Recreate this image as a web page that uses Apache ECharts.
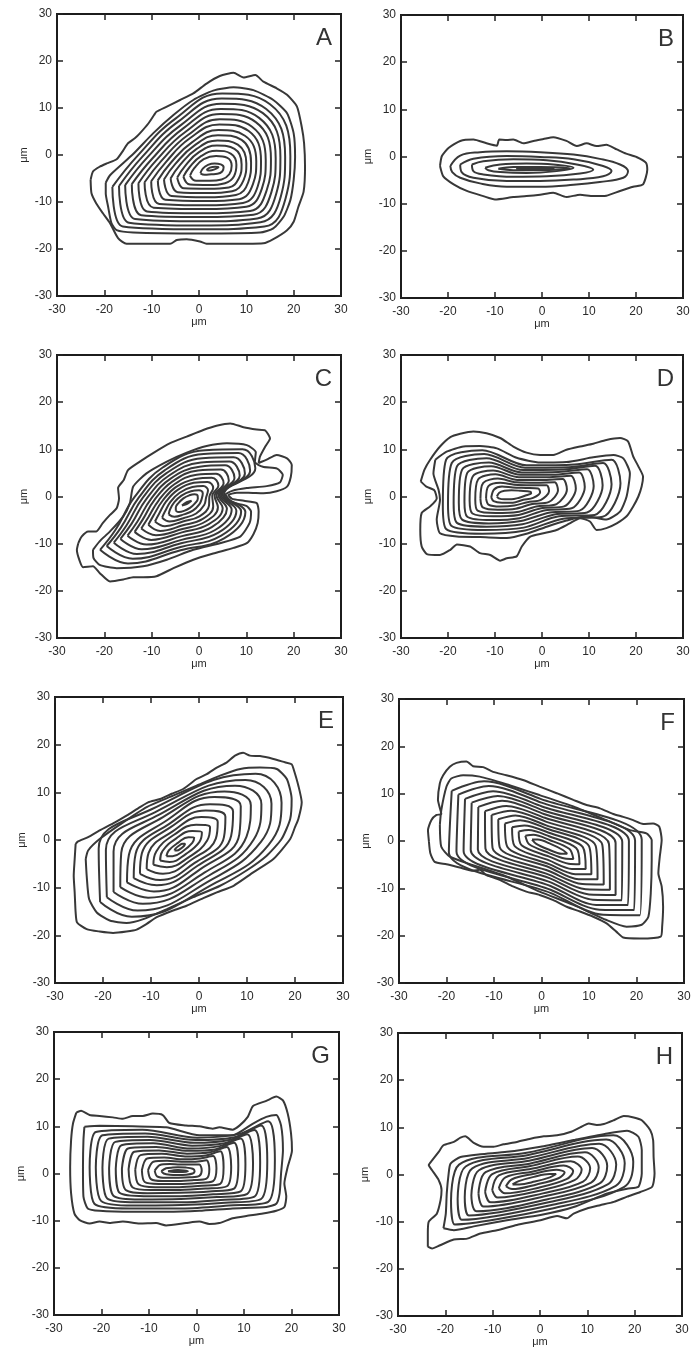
<!DOCTYPE html>
<html>
<head>
<meta charset="utf-8">
<script src="https://cdn.jsdelivr.net/npm/echarts@6/dist/echarts.min.js"></script>
<style>html,body{margin:0;padding:0;background:#fff}#chart{width:697px;height:1355px}</style>
</head>
<body>
<div id="chart"></div>
<script>
// ---------- data (μm), each contour is a closed line [x0,y0,x1,y1,...] ----------
const panelLabels = ['A','B','C','D','E','F','G','H'];
const tickValues = [-30,-20,-10,0,10,20,30];
const axisName = 'μm';

const contoursA = [
 [-22.9,-5.3,-22.4,-3.5,-21,-2.5,-19.5,-1.8,-17.4,-0.9,-16,1,-15,2.5,-13.5,3.6,-12.5,4.6,-10.7,6.7,-9.5,8.5,-9,9.2,-6.8,10.3,-4,11.7,-1.2,13.1,1.6,15.2,4.4,16.8,7.3,17.5,9.4,16.5,11.9,17,13.6,15.6,16.4,14.2,18.6,12.8,20.7,10.3,21.7,6,22.2,2.5,22.4,-2.5,22.1,-7.8,21,-11,20,-14.2,18.6,-16,15.7,-17.9,13.6,-18.8,10.1,-18.9,1.6,-18.9,0.2,-18.4,-2.6,-17.9,-4.7,-18.1,-6.1,-18.9,-15.3,-18.9,-17.1,-17.7,-18.8,-14.5,-20.3,-12.4,-21.7,-10.3,-22.7,-8.2],
 [-19.7,-5.9,-18.8,-4.3,-13.9,0.2,-9.7,4.6,-5.4,8.5,-1.2,11.7,3,13.7,7.3,14.4,11.5,13.8,15.7,11.7,18.6,8.9,20,4.6,20.3,-0.4,20,-5.3,19.3,-9.6,17.9,-13.1,15.7,-15.6,12.9,-16.5,0.2,-16.7,-13.9,-16.5,-17.4,-16,-18.5,-14.5,-19.2,-11,-19.7,-8.2],
 [-18.3,-6.8,-13,-0.2,-4.9,7.8,4.9,13.1,15,10.8,19.3,-0.2,18.3,-9.2,13.8,-15.2,0.2,-15.8,-16.1,-15.2],
 [-16.9,-6.6,-12,-0.4,-4.4,7.1,4.8,12,14.2,9.8,18.2,-0.4,17.3,-8.8,13,-14.3,0.4,-15,-14.8,-14.4],
 [-15.6,-6.4,-11,-0.6,-3.9,6.3,4.7,10.9,13.5,8.9,17.2,-0.5,16.3,-8.3,12.3,-13.5,0.5,-14.1,-13.5,-13.6],
 [-14.2,-6.2,-10,-0.9,-3.4,5.6,4.6,9.8,12.7,7.9,16.2,-0.7,15.3,-7.9,11.5,-12.7,0.7,-13.2,-12.2,-12.8],
 [-12.8,-6,-9,-1.1,-2.9,4.9,4.5,8.7,12,7,15.2,-0.9,14.3,-7.5,10.8,-11.9,0.9,-12.4,-11,-12],
 [-11.5,-5.8,-8,-1.3,-2.4,4.2,4.4,7.6,11.2,6,14.1,-1.1,13.3,-7.1,10,-11,1.1,-11.5,-9.6,-11.2],
 [-10.1,-5.6,-7,-1.5,-2,3.5,4.3,6.5,10.5,5.1,13.1,-1.3,12.4,-6.7,9.3,-10.2,1.3,-10.7,-8.4,-10.4],
 [-8.7,-5.4,-6,-1.7,-1.5,2.7,4.1,5.3,9.7,4.1,12.1,-1.4,11.4,-6.2,8.5,-9.4,1.4,-9.8,-7.1,-9.5],
 [-7.4,-5.2,-5,-1.9,-1,2,4,4.2,9,3.2,11,-1.6,10.4,-5.8,7.8,-8.5,1.6,-9,-5.8,-8.7],
 [-6,-5,-4,-2.1,-0.5,1.3,3.9,3.1,8.2,2.2,10,-1.8,9.4,-5.4,7,-7.7,1.8,-8.1,-4.5,-7.9],
 [-4.6,-4.8,-3,-2.4,0,0.6,3.8,2,7.5,1.3,9,-2,8.4,-5,6.3,-6.9,2,-7.2,-3.2,-7.1],
 [-3.3,-4.6,-2,-2.6,0.5,-0.2,3.7,0.9,6.7,0.3,7.9,-2.1,7.4,-4.5,5.5,-6,2.1,-6.4,-1.9,-6.3],
 [-1.9,-4.4,-1,-2.8,1,-0.9,3.6,-0.2,6,-0.6,6.9,-2.3,6.4,-4.1,4.8,-5.2,2.3,-5.5,-0.6,-5.5],
 [0.3,-3.9,0.8,-2.9,1.9,-2.1,3.3,-1.8,4.6,-2,5.2,-2.6,4.9,-3.5,3.9,-4,2.6,-4.1,1.2,-4.2],
 [1.6,-3.2,2.3,-2.7,3.4,-2.5,4.1,-2.6,3.4,-3.0,2.3,-3.3]
];

const contoursB = [
 [-21.7,-2,-21.3,0.1,-19.9,1.8,-17.4,3.3,-14.6,3.6,-11.8,2.8,-9.6,2.3,-9.1,3.6,-7.5,3.5,-6.1,3.6,-4,2.8,-1.8,3.3,0.3,3.7,2.4,4.1,5.2,3.3,7.4,2.2,9.5,2.8,11.6,2.2,13.7,2.5,15.9,1.5,17.9,0.6,20.1,-0.1,22.1,-1.3,22.4,-2.8,21.5,-5.9,19.4,-6.4,16.6,-7.3,13.7,-8.3,10.9,-8.4,8.1,-8.1,5.2,-8.6,2.4,-7.7,-0.4,-8.1,-3.3,-8.4,-6.1,-8.6,-10,-9.1,-12.5,-8.4,-16,-7.3,-18.8,-5.9,-21,-4.2],
 [-19.5,-2,-17.4,0.2,-13.2,0.9,-7.5,1.1,-0.4,0.9,6.7,0.4,12.3,-0.5,16.6,-1.7,18.3,-3.1,17.3,-4.5,12.3,-5.4,6.7,-6,-0.4,-6.4,-7.5,-6.4,-13.2,-5.7,-17.4,-4.5,-19.1,-3.3],
 [-17.4,-1.7,-14.6,-0.5,-7.5,0.1,-0.4,-0.1,6.7,-0.6,13,-2,14.8,-3.1,13,-4.2,6.7,-4.9,-0.4,-5.2,-7.5,-5.2,-14.6,-4.5,-17.1,-3.3],
 [-14.9,-1.7,-12.5,-1,-6.1,-0.6,1,-0.8,7.4,-1.7,10.9,-2.8,8.1,-3.6,1,-4.2,-6.1,-4.3,-12.5,-3.8,-14.6,-3.1],
 [-12.1,-2.4,-8.9,-1.7,-3.3,-1.5,2.4,-1.7,6.7,-2.4,3.1,-3.1,-3.3,-3.5,-8.9,-3.3,-11.4,-2.9],
 [-9.3,-2.6,-6.1,-2.2,-0.4,-2.2,5.9,-2.5,-0.4,-2.9,-6.1,-2.9],
 [-5.5,-2.6,-1.5,-2.45,2.5,-2.6,-1.5,-2.75]
];

const contoursC = [
 [-25.5,-9.9,-24.8,-8.5,-23.4,-7.4,-21.7,-7.4,-20.3,-5.6,-18.8,-3.9,-17.4,-2.5,-16.9,-0.4,-17.1,1.8,-15.9,3.5,-15,5.6,-12.5,7.4,-9.7,9.2,-6.1,11.3,-2.6,12.7,0.9,14.1,3.7,15,6.6,15.5,9.4,14.7,12.2,14.2,14,14,15,12.3,14,10.6,12.9,8.5,12.6,7.1,14.3,7.8,16.4,8.8,18.6,8.1,19.6,6.7,19.4,4.2,18.6,2.1,16.4,1.1,13.6,0.7,10.4,0.8,8,0.8,6.2,0.3,7,-0.5,9.5,-0.9,12.2,-1.4,12.6,-3.2,12.4,-5.6,11.5,-8,10.1,-9.9,7.3,-10.9,3,-12.1,-1.2,-13.4,-5.4,-15.2,-9,-16.9,-11.8,-17.1,-13.9,-17.1,-16,-17.6,-18.8,-18,-21,-16.2,-22.4,-14.8,-24.5,-15,-25.3,-13.4,-25.8,-11.3],
 [-22.4,-11.3,-21,-9.5,-18.8,-7.4,-16,-4.2,-14.6,-1.4,-13.9,2.1,-11.1,4.9,-6.8,7.4,-2.6,9.3,1.6,10.7,5.9,11.3,10.1,10.9,12,9.4,11.8,7.3,13.5,6.3,16.5,5.9,17.7,4.6,17.1,3,14.3,2.2,10.1,1.8,7,1.2,5.6,0.4,7,-1.2,10,-2,11,-3.2,10.7,-5.6,8.7,-8.5,4.4,-9.9,-1.2,-11.3,-6.8,-13.4,-11.8,-14.8,-17.4,-15.2,-21,-14.5,-22.3,-13],
 [-20.9,-11.3,-17.6,-7,-13.6,-0.1,-7.6,6.2,1.3,9.8,9.2,10,11.9,6,5.3,0.45,9.8,-3.3,5.3,-8.9,-3.9,-11.4,-15,-14.2],
 [-19.5,-10.5,-16.5,-6.6,-12.7,-0.2,-7.2,5.6,1,9,8.3,9.2,10.8,5.5,5,0.4,8.9,-3.2,4.7,-8.3,-3.9,-10.7,-14,-13.2],
 [-18,-9.8,-15.3,-6.1,-11.9,-0.3,-6.8,5,0.7,8.1,7.3,8.3,9.7,4.9,4.7,0.35,7.9,-3,4,-7.7,-3.8,-9.9,-13.1,-12.2],
 [-16.6,-9,-14.2,-5.7,-11.1,-0.5,-6.4,4.4,0.4,7.2,6.4,7.4,8.6,4.4,4.4,0.3,6.9,-2.8,3.4,-7.1,-3.7,-9.2,-12.1,-11.2],
 [-15.1,-8.3,-13,-5.3,-10.2,-0.6,-6,3.8,0.1,6.3,5.5,6.6,7.5,3.9,4.1,0.25,5.9,-2.6,2.7,-6.5,-3.6,-8.4,-11.1,-10.2],
 [-13.6,-7.5,-11.9,-4.9,-9.4,-0.7,-5.6,3.2,-0.2,5.5,4.6,5.7,6.3,3.4,3.7,0.2,5,-2.5,2,-5.9,-3.6,-7.6,-10.1,-9.2],
 [-12.2,-6.8,-10.7,-4.4,-8.5,-0.8,-5.2,2.6,-0.5,4.6,3.6,4.8,5.2,2.8,3.3,0.15,4,-2.3,1.4,-5.3,-3.5,-6.9,-9.1,-8.2],
 [-10.7,-6,-9.6,-4,-7.7,-0.9,-4.9,2,-0.8,3.7,2.7,4,4.1,2.3,2.8,0.1,3,-2.1,0.7,-4.8,-3.4,-6.1,-8.2,-7.3],
 [-9.3,-5.3,-8.4,-3.6,-6.9,-1,-4.5,1.4,-1.1,2.9,1.8,3.1,3,1.8,2.2,0,2.1,-2,0.1,-4.2,-3.4,-5.3,-7.2,-6.3],
 [-7.8,-4.5,-7.2,-3.2,-6,-1.1,-4.1,0.8,-1.4,2,0.9,2.2,1.9,1.3,1.5,-0.2,1.1,-1.8,-0.6,-3.6,-3.3,-4.6,-6.2,-5.3],
 [-6.4,-3.8,-6.1,-2.7,-5.2,-1.2,-3.7,0.2,-1.7,1.1,0,1.3,0.8,0.7,0.6,-0.4,0.1,-1.6,-1.3,-3,-3.2,-3.8,-5.2,-4.3],
 [-4.9,-3,-4.9,-2.3,-4.3,-1.35,-3.3,-0.4,-2.05,0.25,-0.95,0.5,-0.3,0.2,-0.25,-0.5,-0.85,-1.45,-1.9,-2.4,-3.15,-3.05,-4.25,-3.3],
 [-3.6,-1.9,-2.6,-1.2,-1.6,-0.9,-2.6,-1.6]
];

const contoursD = [
 [-25.8,3.2,-25,5.7,-23.8,7.8,-21.7,10.6,-19.5,12.6,-17.4,13.3,-14.6,13.8,-11.8,13.4,-8.9,12.4,-6.1,10.6,-3.3,9.3,-0.4,8.8,2.4,8.8,5.2,9.9,8.1,10.6,10.9,11.2,13.7,12,16.6,12.4,18.3,11.7,19.4,8.5,20.5,6.4,21.5,4.2,21.2,2.1,20.5,0,19.4,-2.1,18,-4.2,15.9,-5.7,13.7,-6.7,11.6,-7.1,10.2,-5.3,8.1,-4.6,5.9,-5.7,3.1,-7.1,0.3,-7.8,-2.5,-8.5,-4.3,-10.6,-5.4,-12.7,-7.5,-13.1,-8.9,-13.6,-11,-12.4,-13.2,-12,-15.3,-10.6,-18.1,-10.2,-19.5,-11.3,-21.7,-12.4,-24.5,-12.2,-25.6,-10.6,-25.9,-7.1,-25.6,-3.5,-23.8,-2.1,-22.4,-0.4,-22.9,1.3,-24.6,2.1],
 [-22.7,7.8,-20.3,9.5,-16.7,10.6,-13.2,10.7,-9.6,10.2,-5.4,8.2,-0.4,7.2,5.2,7.3,10.9,8.3,15.2,8.8,17.3,8.1,18.7,4.9,18,0,16.6,-3.2,13.7,-4.9,9.5,-4.2,5.2,-5.1,1,-6.4,-3.3,-7.9,-7.5,-8.8,-13.2,-8.6,-18.1,-8.5,-21.7,-7.8,-22.4,-4.9,-21.7,-0.7,-22,1.4,-23.1,4.9],
 [-21.1,-1.8,-20.4,7.8,-12.7,9.8,-3.3,6.6,6.9,6.8,14.8,7.8,16.7,2.8,12.9,-4.3,4.5,-4.7,-3.6,-7.2,-12.7,-7.9,-20.4,-6.9],
 [-20,-1.6,-19.2,7.1,-12.3,9,-3.6,6.1,5.7,6.2,13,7.1,14.8,2.6,11.2,-3.9,3.6,-4.2,-3.9,-6.6,-12.3,-7.1,-19.3,-6.2],
 [-18.8,-1.5,-18.1,6.4,-11.8,8.1,-4,5.6,4.6,5.7,11.3,6.5,12.9,2.4,9.6,-3.4,2.6,-3.8,-4.2,-5.9,-11.8,-6.4,-18.1,-5.6],
 [-17.7,-1.3,-17,5.7,-11.3,7.2,-4.3,5.1,3.5,5.2,9.6,5.8,11,2.2,8,-3,1.7,-3.4,-4.5,-5.2,-11.3,-5.7,-17,-4.9],
 [-16.5,-1.1,-15.9,5,-10.8,6.4,-4.6,4.6,2.3,4.6,7.9,5.1,9.1,2,6.3,-2.5,0.7,-2.9,-4.8,-4.6,-10.8,-5,-15.9,-4.3],
 [-15.4,-0.9,-14.7,4.3,-10.4,5.5,-4.9,4.1,1.2,4.1,6.1,4.4,7.2,1.7,4.7,-2.1,-0.2,-2.5,-5,-3.9,-10.4,-4.2,-14.8,-3.6],
 [-14.2,-0.7,-13.6,3.6,-9.9,4.7,-5.2,3.5,0,3.5,4.4,3.7,5.3,1.5,3.1,-1.6,-1.2,-2.1,-5.3,-3.3,-9.9,-3.5,-13.7,-3],
 [-13.1,-0.5,-12.5,2.9,-9.4,3.8,-5.5,3,-1.1,2.9,2.7,3,3.4,1.3,1.4,-1.2,-2.1,-1.6,-5.6,-2.6,-9.4,-2.8,-12.6,-2.3],
 [-11.9,-0.4,-11.4,2.2,-8.9,2.9,-5.9,2.5,-2.2,2.4,1,2.4,1.5,1.1,-0.2,-0.7,-3.1,-1.2,-5.9,-1.9,-8.9,-2.1,-11.4,-1.7],
 [-10.8,-0.2,-10.2,1.5,-8.5,2.1,-6.2,1.9,-3.4,1.8,-0.8,1.7,-0.4,0.9,-1.9,-0.3,-4,-0.7,-6.2,-1.3,-8.5,-1.3,-10.3,-1],
 [-9.6,0,-9.1,0.8,-8,1.2,-6.5,1.35,-4.5,1.2,-2.5,1,-2.3,0.7,-3.5,0.2,-5,-0.3,-6.5,-0.6,-8,-0.6,-9.2,-0.4]
];

const contoursE = [
 [-25.7,-0.8,-25.9,-4,-26.1,-7.5,-25.9,-11,-25.7,-15.2,-25.4,-17.3,-23.4,-18.7,-20.7,-19.2,-17.9,-19.5,-15.1,-19.2,-13,-18.8,-10.9,-17.6,-8.8,-16.2,-5.4,-14.8,-2.6,-13.8,0.9,-12.2,3.7,-11,7.2,-9.6,11.3,-6.8,15.5,-4,19,0.2,20,2.7,20.7,4.4,21.4,7.9,20.7,11.4,19.7,14.9,19.3,15.9,17.9,16.3,15.5,17,12.7,17.6,10.6,17.7,9.2,18.3,7.5,17.7,5.8,16.3,3.7,15.2,1.6,13.8,-0.5,12.8,-3.3,10.7,-5.7,9.7,-8.1,8.6,-10.6,7.9,-12.3,6.9,-15.1,5.1,-17.5,3.7,-20.7,2,-23.1,0.6,-25.2,-0.3],
 [-23.6,-4,-23.4,-7.5,-22.9,-12.4,-21.3,-15.2,-18.6,-16.9,-15.1,-17.4,-11.6,-16.6,-6.7,-14.5,-1.2,-12,4.4,-9.6,9.9,-6.4,14.1,-3.3,17.2,0.2,19,4.4,19.3,8.6,18.3,12.8,16.2,14.9,12.7,15.2,8.6,14.9,4.4,13.5,-0.5,11.4,-5.4,9.3,-10.9,6.9,-15.8,3.7,-20.7,0.2,-23.1,-2.2],
 [-20.6,-13,-20.9,-1.8,-10,6.4,11.8,13.9,17.2,7.8,14.5,-1,3.6,-8.9,-14,-16.1],
 [-19.2,-12,-19.4,-2.1,-9.2,5.8,9.7,12.6,15.1,7.6,12.9,-0.4,2.8,-8.2,-12.8,-14.8],
 [-17.8,-10.9,-17.8,-2.4,-8.3,5.3,7.5,11.4,13,7.5,11.4,0.1,2,-7.5,-11.7,-13.4],
 [-16.4,-9.9,-16.2,-2.7,-7.5,4.8,5.3,10.2,10.8,7.3,9.9,0.7,1.2,-6.8,-10.6,-12.1],
 [-15,-8.9,-14.6,-3.1,-6.6,4.2,3.2,9,8.7,7.1,8.4,1.2,0.3,-6.1,-9.4,-10.8],
 [-13.6,-8,-13.2,-2.9,-6.2,3.4,2.3,7.5,7.1,6,6.7,0.9,-0.3,-5.4,-8.8,-9.5],
 [-12.3,-7.1,-11.9,-2.8,-5.9,2.7,1.4,6.2,5.5,4.9,5.2,0.6,-0.9,-4.8,-8.1,-8.4],
 [-10.9,-6.1,-10.5,-2.7,-5.5,1.8,0.5,4.8,3.9,3.8,3.5,0.3,-1.5,-4.1,-7.5,-7.1],
 [-9.5,-5.2,-8.9,-2.4,-5.2,1.1,-0.6,3.2,2.3,2.7,1.7,-0.1,-2.1,-3.6,-6.7,-5.7],
 [-8.1,-4.3,-7.6,-2.3,-4.8,0.3,-1.4,1.9,0.6,1.6,0.1,-0.4,-2.7,-2.9,-6.1,-4.6],
 [-6.8,-3.4,-6.3,-2.2,-4.4,-0.6,-2.2,0.6,-1,0.5,-1.4,-0.6,-3.3,-2.3,-5.5,-3.4],
 [-5.1,-2.2,-4.9,-1.8,-4.2,-1.2,-3.4,-0.8,-2.9,-0.8,-3.1,-1.2,-3.8,-1.8,-4.6,-2.2]
];

const contoursF = [
 [-23.7,-0.1,-23.9,2.3,-23.2,4.4,-22.1,5.5,-21.1,5.7,-21.8,8.7,-21.4,12.2,-20.7,13.9,-19.3,15.7,-17.9,16.5,-15.8,16.8,-14.4,15.8,-12.3,15.6,-10.2,14.6,-7.4,13.9,-3.9,12.9,-0.4,11.5,3.2,10.1,6.7,8.7,9.5,7.6,12.3,6.9,15.1,5.7,17.2,5.1,19.3,4.4,21.4,3.6,23.5,3.7,24.8,3,25.3,0.2,24.9,-3.3,24.6,-6.8,25.3,-9.6,25.6,-13.9,25.4,-18.1,25.1,-20.2,20.7,-20.6,17.2,-20.4,15.8,-19.2,13.7,-17.4,10.9,-16,8.1,-14.9,5.3,-13.9,2.5,-12.5,-0.4,-11.4,-3.2,-10.7,-6,-9.6,-8.8,-8.2,-11.6,-7.2,-13,-6.1,-14.4,-6.3,-17.2,-5.6,-20,-4.9,-22.5,-4.4,-23.4,-2.6],
 [-21.4,3.4,-21.1,6.5,-20,11.5,-19,13.2,-16.5,13.9,-13,13.6,-7.4,12,-0.4,9.7,6.7,7.3,13.7,4.4,18.6,2.3,22.1,1.6,23.2,0.2,23.2,-4,23,-11.1,22.5,-16,21.1,-17.7,17.9,-18.1,13.7,-16.7,6.7,-13.5,-0.4,-10.7,-7.4,-7.5,-14.4,-5.1,-19.3,-3.3,-21.1,-1.2],
 [-18.9,10.6,-12.1,12.6,-0.2,8.9,21.1,0.3,20.7,-15.7,13,-15.6,2,-11,-19.5,-2.4],
 [-17.5,9.8,-11.1,11.6,0,8.1,19.7,0.1,19.5,-14.6,12.2,-14.5,1.9,-10.3,-17.9,-2.2],
 [-16.1,8.9,-10.2,10.5,0.1,7.3,18.4,0,18.2,-13.5,11.5,-13.5,1.9,-9.5,-16.4,-2.1],
 [-14.7,8.1,-9.2,9.5,0.3,6.5,17,-0.2,16.9,-12.5,10.8,-12.4,1.8,-8.7,-14.9,-1.9],
 [-13.3,7.2,-8.3,8.5,0.5,5.7,15.6,-0.4,15.6,-11.4,10,-11.3,1.8,-7.9,-13.4,-1.8],
 [-11.9,6.3,-7.4,7.4,0.7,4.9,14.2,-0.6,14.4,-10.3,9.3,-10.2,1.8,-7.2,-11.8,-1.6],
 [-10.5,5.5,-6.4,6.4,0.9,4.1,12.8,-0.8,13.1,-9.2,8.6,-9.1,1.7,-6.4,-10.3,-1.5],
 [-9.1,4.6,-5.5,5.4,1,3.3,11.4,-1,11.8,-8.1,7.8,-8.1,1.7,-5.6,-8.8,-1.3],
 [-7.7,3.7,-4.5,4.4,1.2,2.6,10,-1.1,10.5,-7,7.1,-7,1.6,-4.9,-7.2,-1.2],
 [-6.2,2.9,-3.6,3.3,1.4,1.8,8.7,-1.3,9.3,-5.9,6.4,-5.9,1.6,-4.1,-5.7,-1],
 [-4.8,2,-2.7,2.3,1.6,1,7.3,-1.5,8,-4.9,5.7,-4.8,1.6,-3.3,-4.2,-0.9],
 [-3.4,1.1,-1.7,1.3,1.7,0.2,5.9,-1.7,6.7,-3.8,4.9,-3.7,1.5,-2.5,-2.6,-0.7],
 [-2,0.3,-0.8,0.3,1.9,-0.6,4.5,-1.9,5.4,-2.7,4.2,-2.7,1.5,-1.8,-1.1,-0.6]
];

const contoursG = [
 [-25.3,12.9,-24.3,13.3,-22.5,12.4,-20.4,12.2,-17.6,11.9,-15.5,11.6,-13.4,12.2,-11.3,12.2,-9.2,12.7,-7.1,12.4,-5.7,10.7,-2.2,10.2,0.6,10,3.4,9.5,4.8,9.8,7.6,9.3,9.1,10.2,10.8,12,11.9,14.3,14.7,15.4,16.8,16.3,18.2,15.5,19.2,12.7,19.9,8.5,20.1,4.9,19.2,1.4,18.5,-2.1,18.9,-4.9,18.5,-7.1,16.8,-7.9,14,-8.5,10.5,-9,7.6,-9.5,4.8,-10.5,2.7,-10.7,0.6,-10.2,-2.2,-10.5,-6.4,-11,-8.5,-10.5,-12,-10.6,-15.5,-10.2,-18.3,-10.5,-20.4,-10.2,-22.5,-10.6,-24.6,-9.9,-25.7,-8.5,-26.4,-4.2,-26.6,1.4,-26.4,7.1,-26,10.6],
 [-23.6,9.9,-20.4,10.1,-13.4,10,-6.4,9.8,0.6,8.1,7.6,8.1,11.9,10.6,14.7,12,16.8,12.4,17.8,10.2,18.2,4.9,17.8,0,17.5,-4.2,16.8,-6.4,14.7,-7.1,7.6,-7.4,0.6,-7.9,-6.4,-8.1,-13.4,-8.1,-20.4,-7.9,-22.9,-7.4,-23.8,-4.9,-23.9,1.4,-23.8,7.1],
 [-22.5,1.3,-21.2,8.8,-11.4,9.3,0.2,7.6,9,8.4,15.1,11.1,16.5,2.8,15.1,-6,6.8,-6.8,-3.1,-7.4,-14.2,-7.4,-21.5,-6.4],
 [-21.2,1.3,-19.8,8.1,-10.8,8.5,-0.2,7.1,8,7.7,13.6,10.2,14.9,2.6,13.6,-5.4,6,-6.2,-3.2,-6.7,-13.4,-6.8,-20.1,-5.8],
 [-19.8,1.2,-18.5,7.4,-10.3,7.8,-0.5,6.5,6.9,7.1,12.2,9.2,13.4,2.4,12.2,-4.9,5.1,-5.6,-3.2,-6.1,-12.7,-6.1,-18.8,-5.3],
 [-18.4,1.1,-17.1,6.7,-9.7,7.1,-0.9,5.9,5.9,6.4,10.7,8.3,11.9,2.2,10.7,-4.3,4.3,-5,-3.3,-5.4,-11.9,-5.5,-17.5,-4.7],
 [-17,1,-15.8,6,-9.1,6.4,-1.3,5.3,4.9,5.8,9.3,7.4,10.3,2,9.3,-3.8,3.5,-4.4,-3.4,-4.8,-11.1,-4.8,-16.2,-4.1],
 [-15.7,1,-14.4,5.3,-8.5,5.6,-1.7,4.8,3.9,5.1,7.9,6.5,8.8,1.8,7.9,-3.2,2.7,-3.8,-3.5,-4.1,-10.3,-4.2,-14.9,-3.5],
 [-14.3,0.9,-13.1,4.6,-7.9,4.9,-2,4.2,2.9,4.5,6.4,5.6,7.3,1.5,6.4,-2.7,1.9,-3.2,-3.5,-3.5,-9.5,-3.5,-13.5,-2.9],
 [-12.9,0.8,-11.8,3.9,-7.3,4.2,-2.4,3.6,1.9,3.8,5,4.7,5.7,1.3,5,-2.2,1.1,-2.6,-3.6,-2.9,-8.7,-2.9,-12.2,-2.3],
 [-11.5,0.7,-10.4,3.2,-6.8,3.4,-2.8,3,0.8,3.2,3.5,3.7,4.2,1.1,3.5,-1.6,0.2,-2,-3.7,-2.2,-8,-2.2,-10.9,-1.8],
 [-10.2,0.7,-9.1,2.5,-6.2,2.7,-3.2,2.5,-0.2,2.5,2.1,2.8,2.7,0.9,2.1,-1.1,-0.6,-1.4,-3.8,-1.6,-7.2,-1.6,-9.6,-1.2],
 [-8.8,0.6,-7.7,1.8,-5.6,2,-3.5,1.9,-1.2,1.9,0.6,1.9,1.1,0.7,0.6,-0.5,-1.4,-0.8,-3.8,-0.9,-6.4,-0.9,-8.3,-0.6],
 [-7.4,0.5,-6.4,1.1,-5,1.25,-3.9,1.3,-2.2,1.25,-0.8,1,-0.4,0.5,-0.8,0,-2.2,-0.25,-3.9,-0.3,-5.6,-0.25,-6.9,0],
 [-6,0.5,-3.9,0.75,-1.8,0.5,-3.9,0.3]
];

const contoursH = [
 [-23.7,-15.3,-22.8,-15.7,-21.1,-15,-18.2,-13.8,-15.4,-13.6,-12.6,-12.5,-9.1,-11.8,-4.9,-10.7,0.1,-9.7,3.6,-8.8,5.7,-9.3,7.1,-8.3,9.9,-7.2,12.7,-6.5,15.6,-5.8,18.4,-4.7,21.2,-3.7,23.7,-2.6,24.2,0.2,24,3.7,23.9,7.3,23.3,9.4,21.5,11.5,19.8,12.1,17.7,12.4,15.6,11.5,13.5,10.7,12,10.5,10.3,10.8,8.5,10,6.4,9,3.6,8.3,0.8,8.1,-2,7.6,-4.9,6.9,-7.7,6.4,-9.8,5.9,-11.9,5.9,-14,6.7,-15.8,8.1,-16.8,7.8,-18.2,6.9,-20.4,6.2,-21.4,4.8,-22.8,3,-23.5,2,-22.8,0.9,-21.4,-1.2,-20.8,-3.3,-21,-5.4,-21.8,-8.3,-23.5,-10,-23.7,-12.5],
 [-20.4,-11.4,-19.9,-8.3,-19.7,-4,-19.3,0.2,-18.9,2.3,-16.8,3.7,-12.6,4.3,-7,4.8,0.1,5.9,7.1,7.3,14.2,8.7,18.4,9.3,20.8,8,21.5,5.2,21.5,0.2,20.8,-2.6,18.4,-3,14.2,-4,7.1,-6.9,0.1,-8.6,-7,-9.7,-14,-11,-18.2,-11.8],
 [-18.8,-5.6,-17.1,2.1,-2.8,4.6,15.5,8.3,19.7,2.7,17.8,-2.6,2.6,-7.2,-18,-10.6],
 [-17.4,-5.2,-15.7,1.7,-2.7,4.1,14,7.4,17.9,2.4,16,-2.4,2.2,-6.5,-16.5,-9.6],
 [-15.9,-4.8,-14.3,1.3,-2.5,3.5,12.5,6.5,16.1,2.1,14.3,-2.1,1.8,-5.9,-15,-8.7],
 [-14.5,-4.4,-12.9,0.9,-2.3,2.9,11,5.6,14.2,1.8,12.6,-1.9,1.4,-5.3,-13.4,-7.8],
 [-13,-4,-11.5,0.5,-2.2,2.3,9.5,4.7,12.4,1.5,10.8,-1.7,1,-4.6,-11.9,-6.8],
 [-11.6,-3.7,-10.1,0.1,-2,1.8,8,3.8,10.6,1.3,9.1,-1.5,0.6,-4,-10.4,-5.9],
 [-10.1,-3.3,-8.7,-0.2,-1.8,1.2,6.5,2.8,8.8,1,7.3,-1.2,0.1,-3.4,-8.9,-4.9],
 [-8.7,-2.9,-7.3,-0.6,-1.7,0.6,5,1.9,7,0.7,5.6,-1,-0.3,-2.8,-7.4,-4],
 [-7.2,-2.5,-5.9,-1,-1.5,0.1,3.5,1,5.2,0.4,3.9,-0.8,-0.7,-2.1,-5.9,-3.1],
 [-5.8,-2.1,-4.5,-1.4,-1.3,-0.5,2,0.1,3.4,0.1,2.1,-0.6,-1.1,-1.5,-4.4,-2.1]
];

const panelContours = [contoursA, contoursB, contoursC, contoursD, contoursE, contoursF, contoursG, contoursH];

// ---------- layout & style ----------
const gridBoxes = [
 [57,14,284,282],[401,15,282,283],
 [57,355,284,283],[401,355,282,283],
 [55,697,288,286],[399,699,285,284],
 [54,1032,285,283],[398,1033,284,283]
];
const ringSmooth = [0.45, 0.4, 0.42, 0.3, 0.45, 0.3, 0.3, 0.35];

const FONT = "'Liberation Sans', Arial, Helvetica, sans-serif";
const INK = '#2a2a2a';
const LINE = '#383838';

const grids = [], xAxes = [], yAxes = [], series = [], graphics = [];
panelContours.forEach((contours, p) => {
  const [l, t, w, h] = gridBoxes[p];
  grids.push({left: l, top: t, width: w, height: h, show: true, borderColor: '#1c1c1c', borderWidth: 2,
              backgroundColor: 'rgba(0,0,0,0)', containLabel: false, outerBoundsMode: 'none'});
  const tick = {show: true, inside: true, length: 6, lineStyle: {color: '#222', width: 1.5}};
  const base = {type: 'value', gridIndex: p, min: tickValues[0], max: tickValues[tickValues.length - 1],
                interval: tickValues[1] - tickValues[0], splitLine: {show: false},
                axisLine: {show: false, onZero: false}, axisTick: tick};
  const lbl = {fontSize: 12, color: INK, fontFamily: FONT};
  const nameStyle = {fontSize: 11, color: INK, fontFamily: FONT};
  xAxes.push(Object.assign({}, base, {position: 'bottom', name: axisName, nameLocation: 'middle', nameGap: 20,
             nameTextStyle: nameStyle, axisLabel: Object.assign({margin: 8}, lbl)}));
  xAxes.push(Object.assign({}, base, {position: 'top', axisLabel: {show: false}}));
  yAxes.push(Object.assign({}, base, {position: 'left', name: axisName, nameLocation: 'middle', nameGap: 28,
             nameTextStyle: nameStyle, axisLabel: Object.assign({margin: 5}, lbl)}));
  yAxes.push(Object.assign({}, base, {position: 'right', axisLabel: {show: false}}));

  contours.forEach(flat => {
    const pts = [];
    for (let i = 0; i < flat.length; i += 2) pts.push([flat[i], flat[i + 1]]);
    pts.push(pts[0]);
    series.push({type: 'line', xAxisIndex: 2 * p, yAxisIndex: 2 * p, data: pts,
                 showSymbol: false, symbol: 'none', smooth: flat.length > 40 ? 0.2 : ringSmooth[p],
                 lineStyle: {color: LINE, width: 2}, silent: true, animation: false, z: 3});
  });

  graphics.push({type: 'text', x: l + w - 9, y: t + 12, silent: true, z: 10,
                 style: {text: panelLabels[p], font: '24px ' + FONT, fill: '#333',
                         textAlign: 'right', textVerticalAlign: 'top', align: 'right', verticalAlign: 'top'}});
});

const chart = echarts.init(document.getElementById('chart'), null, {renderer: 'canvas', width: 697, height: 1355});
chart.setOption({
  animation: false,
  backgroundColor: '#ffffff',
  grid: grids,
  xAxis: xAxes,
  yAxis: yAxes,
  series: series,
  graphic: {elements: graphics}
});
</script>
</body>
</html>
